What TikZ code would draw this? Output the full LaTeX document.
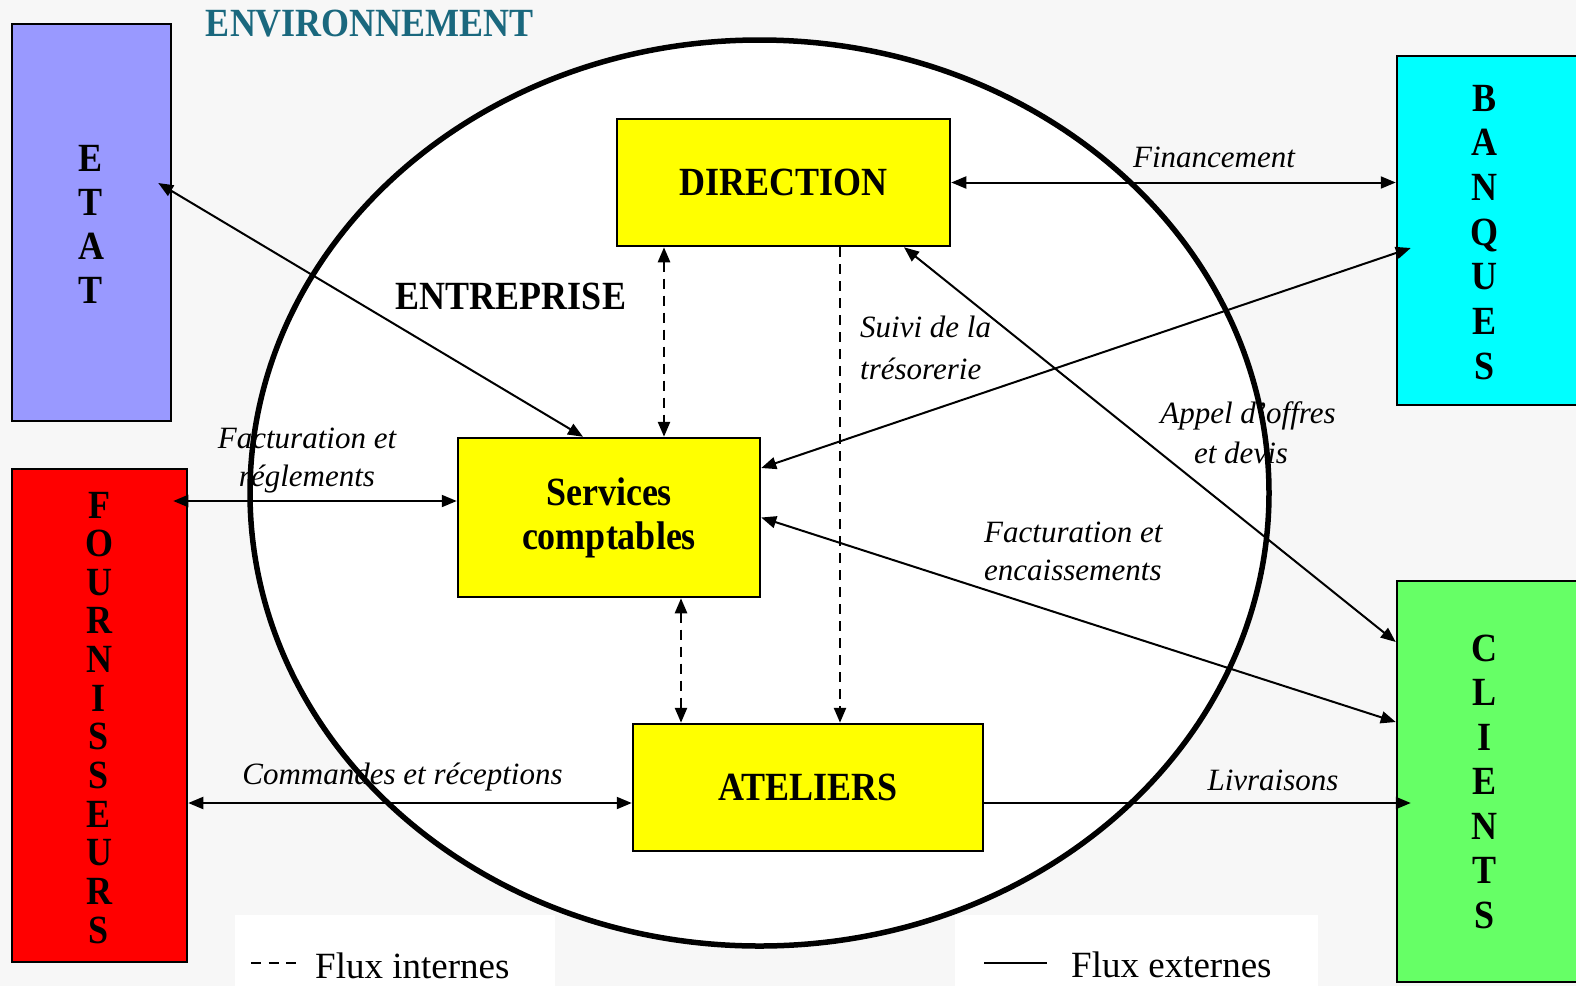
\documentclass[tikz,border=0pt]{standalone}
\usepackage{fontspec}
\setmainfont{Liberation Serif}
\newfontfamily\bcond[FakeStretch=0.9]{Liberation Serif}
\usetikzlibrary{arrows.meta}
\definecolor{bgc}{RGB}{247,247,247}
\definecolor{envc}{RGB}{26,104,126}
\definecolor{etatc}{RGB}{153,153,255}
\definecolor{fourc}{RGB}{255,0,0}
\definecolor{banqc}{RGB}{0,255,255}
\definecolor{clic}{RGB}{102,255,102}
\definecolor{yel}{RGB}{255,255,0}
\tikzset{
  >={Triangle[length=15pt,width=12pt]},
  box/.style={draw=black, line width=2.5pt, inner sep=0pt, align=center,
    font=\bcond\bfseries\fontsize{40}{44}\selectfont},
  letter/.style={anchor=base, inner sep=0pt, font=\bcond\bfseries\fontsize{40}{44}\selectfont},
  ext/.style={line width=2pt},
  intf/.style={line width=2.5pt, dash pattern=on 10pt off 7pt},
  lab/.style={anchor=base, inner sep=0pt, font=\itshape\fontsize{31}{40}\selectfont},
  leg/.style={anchor=base west, inner sep=0pt, font=\fontsize{37}{40}\selectfont},
}
\begin{document}
\begin{tikzpicture}[x=1pt,y=-1pt]
\useasboundingbox (0,0) rectangle (1576,986);
\fill[bgc] (0,0) rectangle (1576,986);
\fill[white] (235,915) rectangle (555,986);
\fill[white] (955,915) rectangle (1318,986);
% ellipse
\draw[line width=5.5pt, fill=white] (759.5,493) ellipse [x radius=509.5, y radius=453];
% title
\node[anchor=base, inner sep=0pt, text=envc, font=\bcond\bfseries\fontsize{40}{44}\selectfont] (env) at (370,36) {ENVIRONNEMENT};
\node[anchor=base, inner sep=0pt, font=\bcond\bfseries\fontsize{40}{44}\selectfont] (ent) at (511,309) {ENTREPRISE};
% outside boxes
\node[box, fill=etatc, minimum width=159pt, minimum height=397pt] (etat) at (91.5,222.5) {};
\node[box, fill=fourc, minimum width=175pt, minimum height=493pt] (fourn) at (99.5,715.5) {};
\node[box, fill=banqc, minimum width=193pt, minimum height=349pt] (banq) at (1493.5,230.5) {};
\node[box, fill=clic, minimum width=193pt, minimum height=401pt] (cli) at (1493.5,781.5) {};
\foreach \l [count=\i] in {E,T,A,T}
  \node[letter] (etatl\i) at (91,{171+44*(\i-1)}) {\l};
\foreach \l [count=\i] in {F,O,U,R,N,I,S,S,E,U,R,S}
  \node[letter] (fournl\i) at (99,{518+38.64*(\i-1)}) {\l};
\foreach \l [count=\i] in {B,A,N,Q,U,E,S}
  \node[letter] (banql\i) at (1484,{111+44.7*(\i-1)}) {\l};
\foreach \l [count=\i] in {C,L,I,E,N,T,S}
  \node[letter] (clil\i) at (1484,{661+44.5*(\i-1)}) {\l};
% inside boxes
\node[box, fill=yel, minimum width=333pt, minimum height=127pt] (dir) at (783.5,182.5) {DIRECTION};
\node[box, fill=yel, minimum width=302pt, minimum height=159pt] (svc) at (609,517.5) {Services\\comptables};
\node[box, fill=yel, minimum width=350pt, minimum height=127pt] (atel) at (808,787.5) {ATELIERS};
% external flows
\draw[ext,<->] ([xshift=-14pt,yshift=39.5pt]etat.east) -- ([xshift=-26pt]svc.north);
\draw[ext,<->] ([xshift=-15pt,yshift=214.5pt]fourn.east) -- ([yshift=16.5pt]svc.west);
\draw[ext,<->] ([yshift=-87.5pt]fourn.east) -- ([yshift=-15.5pt]atel.west);
\draw[ext,<->] (dir.east) -- (dir.east -| banq.west);
\draw[ext,<->] ([yshift=49.5pt]svc.east) -- ([xshift=15pt,yshift=-17.5pt]banq.west);
\draw[ext,<->] ([xshift=120.5pt]dir.south) -- ([yshift=139.5pt]cli.west);
\draw[ext,<->] (svc.east) -- ([yshift=59.5pt]cli.west);
\draw[ext,->] ([yshift=-15.5pt]atel.east) -- ([xshift=15pt,yshift=-21.5pt]cli.west);
% internal flows
\draw[intf,<->] ([xshift=-119.5pt]dir.south) -- ([xshift=55pt]svc.north);
\draw[intf,<->] ([xshift=72pt]svc.south) -- ([xshift=-127pt]atel.north);
\draw[intf,->] ([xshift=56.5pt]dir.south) -- ([xshift=32pt]atel.north);
% labels
\node[lab] (lfin) at (1214,167) {Financement};
\node[lab, anchor=base west] (lsui1) at (860,337) {Suivi de la};
\node[lab, anchor=base west] (lsui2) at (860,379) {trésorerie};
\node[lab] (lapp1) at (1248,423) {Appel d’offres};
\node[lab] (lapp2) at (1241,463) {et devis};
\node[lab] (lfac1) at (307,448) {Facturation et};
\node[lab] (lfac2) at (307,486) {réglements};
\node[lab, anchor=base west] (lenc1) at (984,542) {Facturation et};
\node[lab, anchor=base west] (lenc2) at (984,580) {encaissements};
\node[lab] (lcom) at (402.5,784) {Commandes et réceptions};
\node[lab] (lliv) at (1273,790) {Livraisons};
% legend
\coordinate (li1) at (251,963);
\coordinate (li2) at (296,963);
\coordinate (le1) at (984,963);
\coordinate (le2) at (1047,963);
\draw[line width=2pt, dash pattern=on 10pt off 7.5pt] (li1) -- (li2);
\draw[line width=2.5pt] (le1) -- (le2);
\node[leg] (legi) at (315,978) {Flux internes};
\node[leg] (lege) at (1071,977) {Flux externes};
\end{tikzpicture}
\end{document}
